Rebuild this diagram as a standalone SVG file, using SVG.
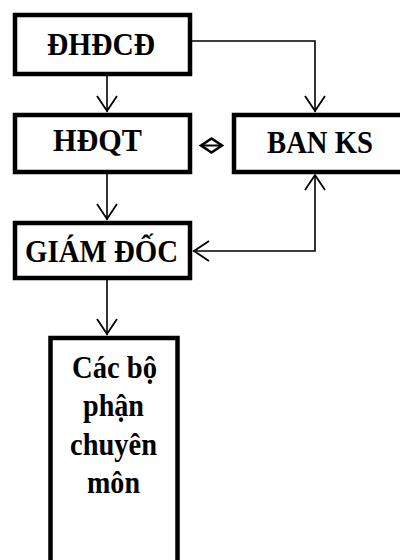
<svg xmlns="http://www.w3.org/2000/svg" width="400" height="560" viewBox="0 0 400 560">
<defs>
<style>
.box{fill:#fff;stroke:#000;stroke-width:4.5}
.t{font-family:"Liberation Serif","Times New Roman",serif;font-weight:bold;font-size:31px;fill:#000;text-anchor:middle}
.c{fill:none;stroke:#000;stroke-width:1.6}
.ah{fill:none;stroke:#000;stroke-width:1.8;stroke-linejoin:miter}
</style>
</defs>
<rect width="400" height="560" fill="#fff"/>
<g id="n-dhdcd"><rect class="box" x="15" y="15" width="175" height="59"/><text class="t" x="101" y="55" textLength="108" lengthAdjust="spacingAndGlyphs">ĐHĐCĐ</text></g>
<g id="n-hdqt"><rect class="box" x="15" y="115" width="175" height="57"/><text class="t" x="97.5" y="151" textLength="89" lengthAdjust="spacingAndGlyphs">HĐQT</text></g>
<g id="n-banks"><rect class="box" x="234" y="115" width="180" height="57"/><text class="t" x="320" y="153" textLength="106" lengthAdjust="spacingAndGlyphs">BAN KS</text></g>
<g id="n-giamdoc"><rect class="box" x="15" y="223" width="175" height="55"/><text class="t" x="101.5" y="262" textLength="153" lengthAdjust="spacingAndGlyphs">GIÁM ĐỐC</text></g>
<g id="n-cacbo"><rect class="box" x="50.5" y="338" width="127" height="240"/>
<text class="t" x="114.5" y="378" textLength="85" lengthAdjust="spacingAndGlyphs">Các bộ</text>
<text class="t" x="113.5" y="416" textLength="61" lengthAdjust="spacingAndGlyphs">phận</text>
<text class="t" x="113.5" y="455" textLength="87" lengthAdjust="spacingAndGlyphs">chuyên</text>
<text class="t" x="113.5" y="493" textLength="53" lengthAdjust="spacingAndGlyphs">môn</text></g>
<g id="connectors">
<path class="c" d="M107 76V112"/><path class="ah" d="M97 96L107 111L117 96"/>
<path class="c" d="M192 41H315V112"/><path class="ah" d="M305 96L315 111L325 96"/>
<path class="c" d="M107 174V220"/><path class="ah" d="M97 204L107 219L117 204"/>
<path class="c" d="M107 280V335"/><path class="ah" d="M97 319L107 334L117 319"/>
<path class="c" d="M315 175V251H193"/><path class="ah" d="M305 190L315 175L325 190"/><path class="ah" d="M209 241L194 251L209 261"/>
<g id="sym"><path d="M201 145.5L211.5 138.5L222 145.5L211.5 152.5Z" fill="none" stroke="#000" stroke-width="2.6"/><path d="M202 145.5H221" stroke="#000" stroke-width="2"/></g>
</g>
</svg>
